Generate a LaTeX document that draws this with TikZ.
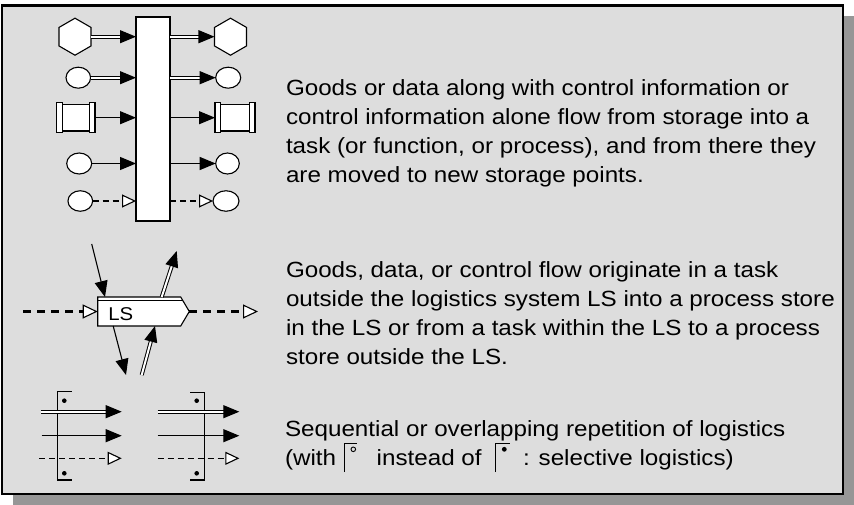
\documentclass[tikz,border=0pt]{standalone}
\usepackage{fontspec}
\setmainfont[FakeStretch=1.1]{Liberation Sans}
\usetikzlibrary{arrows.meta,shapes.geometric,calc}
\definecolor{boxgray}{RGB}{221,221,221}
\definecolor{shadowgray}{RGB}{150,150,150}
\newcommand\DblArrow[2]{%
  \draw[dblln, shorten >=15pt] (#1) -- (#2);
  \draw[tipfill] ($(#2)!15pt!(#1)$) -- (#2);}
\begin{document}
\begin{tikzpicture}[x=1pt,y=-1pt,
  every node/.style={inner sep=0pt, outer sep=0pt},
  ln/.style={line width=1.1pt},
  shp/.style={draw, line width=1.1pt, fill=white},
  hexa/.style={shp, regular polygon, regular polygon sides=6, minimum size=37pt, shape border rotate=30},
  oval/.style={shp, ellipse, minimum width=#1, minimum height=21pt},
  storebox/.style={minimum width=#1, minimum height=30pt},
  taskbar/.style={shp, rectangle, minimum width=34pt, minimum height=204pt},
  tipfill/.style={ln, -{Triangle[length=16pt,width=13pt]}},
  arr/.style={ln, -{Triangle[length=16pt,width=13pt]}},
  dblln/.style={draw, line width=1pt, double=white, double distance=2pt},
  dashln/.style={line width=1.1pt, dash pattern=on 6pt off 4pt},
  opentip/.style={-{Triangle[fill=white,line width=1.1pt,length=14pt,width=13pt]}},
  thickdash/.style={line width=3pt, dash pattern=on 8pt off 6pt,
     -{Triangle[fill=white,line width=1.1pt,length=15pt,width=14pt]}},
  txt/.style={font=\fontsize{22}{28}\selectfont, anchor=base west},
  dotc/.style={fill=black},
]
\useasboundingbox (0,0) rectangle (854,505);
% shadow and frame
\fill[shadowgray] (13,16) rectangle (854,505);
\draw[line width=2.5pt, fill=boxgray] (2,5.3) rectangle (843,494);

% ---------- top section ----------
\node[taskbar] (task) at (153,119) {};
\node[hexa] (h1) at (75,36.7) {};
\node[hexa] (h2) at (230.5,36.7) {};
\node[oval=24.6pt] (c1) at (78.3,77.7) {};
\node[oval=25pt] (c2) at (228.2,77.7) {};
\node[storebox=38.3pt] (s1) at (75.8,117.7) {};
\node[storebox=40pt] (s2) at (235,117.7) {};
\foreach \s in {s1,s2}{
  \draw[shp] ([xshift=5.7pt,yshift=-1.7pt]\s.north west) rectangle ([xshift=-5.7pt,yshift=1.7pt]\s.south east);
  \draw[shp] (\s.north west) rectangle ([xshift=5.7pt]\s.south west);
  \draw[shp] (\s.north east) rectangle ([xshift=-5.7pt]\s.south east);
}
\node[oval=25pt] (c3) at (79.2,163.5) {};
\node[oval=23.6pt] (c4) at (227.5,163.5) {};
\node[oval=24.7pt, minimum height=20.5pt] (c5) at (80.3,201) {};
\node[oval=26pt, minimum height=20.5pt] (c6) at (226,201) {};

\DblArrow{h1.east}{h1.east -| task.west}
\DblArrow{h2.west -| task.east}{h2.west}
\DblArrow{c1.east}{c1.east -| task.west}
\DblArrow{c2.west -| task.east}{c2.west}
\draw[arr] (s1.east) -- (s1.east -| task.west);
\draw[arr] (s2.west -| task.east) -- (s2.west);
\draw[arr] (c3.east) -- (c3.east -| task.west);
\draw[arr] (c4.west -| task.east) -- (c4.west);
\draw[dashln, opentip] (c5.east) -- (c5.east -| task.west);
\draw[dashln, opentip] (c6.west -| task.east) -- (c6.west);

\node[txt] (t1a) at (286,96) {Goods or data along with control information or};
\node[txt] (t1b) at (286,124.8) {control information alone flow from storage into a};
\node[txt] (t1c) at (286,153.6) {task (or function, or process), and from there they};
\node[txt] (t1d) at (286,182.4) {are moved to new storage points.};

% ---------- middle section ----------
\node[minimum width=83pt, minimum height=29pt] (ls) at (139.2,311.5) {};
\draw[shp] (ls.north west) -- (ls.north east) -- ([xshift=8.6pt]ls.east) -- (ls.south east) -- (ls.south west) -- cycle;
\draw[line width=1pt] ([yshift=-3pt]ls.north west) -- ([xshift=1.8pt,yshift=-3pt]ls.north east);
\node[font=\fontsize{18.5}{20}\selectfont, anchor=base west] (lslabel) at (108.3,320) {LS};

\coordinate (inL) at (23,311.5);
\coordinate (outR) at (258,311.5);
\draw[thickdash] (inL) -- (ls.west);
\draw[thickdash] ([xshift=8.6pt]ls.east) -- (outR);

\coordinate (a1s) at (91.7,244);
\draw[arr] (a1s) -- ([xshift=7.3pt]ls.north west);
\coordinate (a2e) at (176.7,251);
\DblArrow{$(ls.north west)+(64,0)$}{a2e}
\coordinate (a3e) at (126,375);
\draw[arr] ([xshift=15.5pt]ls.south west) -- (a3e);
\coordinate (a4s) at (141.7,375);
\DblArrow{a4s}{$(ls.south west)+(57.3,0)$}

\node[txt] (t2a) at (286,277.5) {Goods, data, or control flow originate in a task};
\node[txt] (t2b) at (286,306.5) {outside the logistics system LS into a process store};
\node[txt] (t2c) at (286,335.5) {in the LS or from a task within the LS to a process};
\node[txt] (t2d) at (286,364.5) {store outside the LS.};

% ---------- bottom section ----------
% left group
\draw[ln] (71.7,391.7) -- (57.7,391.7) -- (57.7,480) -- (71.7,480);
\fill[dotc] (64.3,400.7) circle (2.3);
\fill[dotc] (64.3,473.3) circle (2.3);
\coordinate (l1s) at (40.7,411.7); \coordinate (l1e) at (121.7,411.7);
\coordinate (l2s) at (41.7,435.7); \coordinate (l2e) at (121.7,435.7);
\coordinate (l3s) at (39.3,458.3); \coordinate (l3e) at (121.7,458.3);
\DblArrow{l1s}{l1e}
\draw[arr] (l2s) -- (l2e);
\draw[dashln, opentip] (l3s) -- (l3e);
% right group
\draw[ln] (190,392.3) -- (204.3,392.3) -- (204.3,480) -- (190,480);
\fill[dotc] (196.7,400.7) circle (2.3);
\fill[dotc] (196.7,473.3) circle (2.3);
\coordinate (r1s) at (157.7,411.7); \coordinate (r1e) at (239.3,411.7);
\coordinate (r2s) at (157.7,435.7); \coordinate (r2e) at (239.3,435.7);
\coordinate (r3s) at (157.7,458.3); \coordinate (r3e) at (239.3,458.3);
\DblArrow{r1s}{r1e}
\draw[arr] (r2s) -- (r2e);
\draw[dashln, opentip] (r3s) -- (r3e);

\node[txt] (t3a) at (285,436.7) {Sequential or overlapping repetition of logistics};
\node[txt] (t3b) at (285,465.5) {(with};
\draw[line width=1pt] (344,472) -- (344,443) -- (357,443);
\draw[line width=0.9pt] (353.3,449.3) circle (2.3);
\node[txt] (t3c) at (376.7,465.5) {instead of};
\draw[line width=1pt] (495.7,472) -- (495.7,443) -- (510,443);
\fill[dotc] (504.3,449.3) circle (2.4);
\node[txt] (t3d) at (523,465.5) {: selective logistics)};
\end{tikzpicture}
\end{document}
